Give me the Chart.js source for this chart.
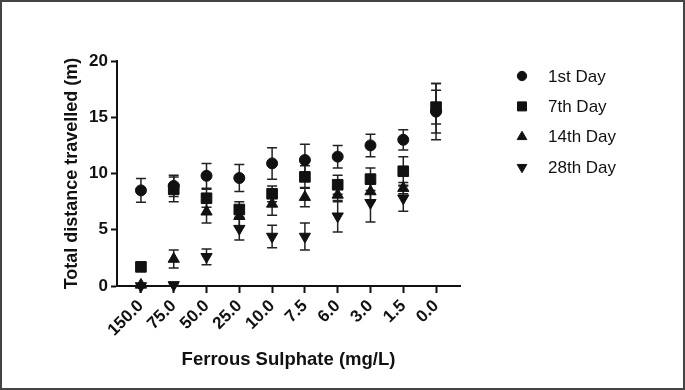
<!DOCTYPE html>
<html>
<head>
<meta charset="utf-8">
<script src="https://cdn.jsdelivr.net/npm/chart.js@4/dist/chart.umd.min.js"></script>
<style>
  body { margin: 0; background: #fff; }
  #wrap { position: relative; width: 685px; height: 390px; }
  #wrap canvas { position: absolute; left: 0; top: 0; }
  #frame { position: absolute; left: 0; top: 0; width: 685px; height: 390px; box-sizing: border-box; border: 2px solid #444; pointer-events: none; }
</style>
</head>
<body>
<div id="wrap">
  <canvas id="distChart" width="685" height="390"></canvas>
  <div id="frame"></div>
</div>
<script>
// Ferrous sulphate concentrations (categories on the x axis)
const concentrations = ['150.0', '75.0', '50.0', '25.0', '10.0', '7.5', '6.0', '3.0', '1.5', '0.0'];

// mean distance travelled (m) and error (SD) for each day
const day1 = [8.5, 8.9, 9.8, 9.6, 10.9, 11.2, 11.5, 12.5, 13.0, 15.5];
const day1Err = [1.05, 0.95, 1.1, 1.2, 1.4, 1.4, 1.0, 1.0, 0.9, 2.5];
const day7 = [1.7, 8.6, 7.8, 6.8, 8.2, 9.7, 9.0, 9.5, 10.2, 15.9];
const day7Err = [0.3, 1.1, 0.8, 0.7, 0.7, 1.0, 0.85, 1.0, 1.3, 1.5];
const day14 = [0.1, 2.4, 6.6, 6.2, 7.3, 7.9, 8.1, 8.4, 8.7, 15.8];
const day14Err = [0.1, 0.8, 1.0, 0.9, 1.0, 0.85, 0.6, 0.8, 0.5, 2.2];
const day28 = [0.0, 0.1, 2.6, 5.1, 4.4, 4.4, 6.2, 7.4, 7.8, null];
const day28Err = [0.1, 0.1, 0.7, 1.0, 1.0, 1.2, 1.4, 1.7, 1.15, null];

const yTicks = [0, 5, 10, 15, 20];

const FONT = "'Liberation Sans', Arial, sans-serif";

function toPoints(values) {
    return values.map((v, i) => ({ x: i, y: v }));
}

// draws the vertical error bars with caps, behind the markers
const errorBars = {
    id: 'errorBars',
    beforeDatasetsDraw(chart) {
        const { ctx, scales: { x, y } } = chart;
        ctx.save();
        ctx.strokeStyle = '#222';
        ctx.lineWidth = 1.5;
        chart.data.datasets.forEach(ds => {
            ds.data.forEach((p, i) => {
                const e = ds.errors[i];
                if (p.y == null || e == null) return;
                const px = x.getPixelForValue(p.x);
                const top = y.getPixelForValue(p.y + e);
                const bot = y.getPixelForValue(Math.max(0, p.y - e));
                ctx.beginPath();
                ctx.moveTo(px, top); ctx.lineTo(px, bot);
                ctx.moveTo(px - 5, top); ctx.lineTo(px + 5, top);
                ctx.moveTo(px - 5, bot); ctx.lineTo(px + 5, bot);
                ctx.stroke();
            });
        });
        ctx.restore();
    }
};

// legend on the right, symbols + labels
const sideLegend = {
    id: 'sideLegend',
    afterDraw(chart) {
        const ctx = chart.ctx;
        ctx.save();
        ctx.font = '17px ' + FONT;
        ctx.textBaseline = 'middle';
        chart.data.datasets.forEach((ds, i) => {
            const yy = 76 + i * 30.4;
            ctx.fillStyle = '#111';
            ctx.strokeStyle = '#111';
            Chart.helpers.drawPoint(ctx, {
                pointStyle: ds.pointStyle,
                radius: ds.pointRadius * 0.85,
                rotation: ds.rotation || 0,
                borderWidth: 1
            }, 522, yy);
            ctx.fillText(ds.label, 548, yy + 1);
        });
        ctx.restore();
    }
};

function makeSet(label, values, errs, style, radius, rotation) {
    return {
        label: label,
        data: toPoints(values),
        errors: errs,
        pointStyle: style,
        pointRadius: radius,
        rotation: rotation,
        backgroundColor: '#111',
        borderColor: '#111',
        borderWidth: 1,
        showLine: false,
        clip: false
    };
}

const ctx = document.getElementById('distChart').getContext('2d');
new Chart(ctx, {
    type: 'scatter',
    data: {
        datasets: [
            makeSet('1st Day', day1, day1Err, 'circle', 5.5, 0),
            makeSet('7th Day', day7, day7Err, 'rect', 7.5, 0),
            makeSet('14th Day', day14, day14Err, 'triangle', 6.5, 0),
            makeSet('28th Day', day28, day28Err, 'triangle', 6.5, 180)
        ]
    },
    options: {
        responsive: false,
        animation: false,
        layout: { padding: { left: 55, top: 61, right: 225, bottom: 10 } },
        plugins: {
            legend: { display: false },
            tooltip: { enabled: false }
        },
        scales: {
            x: {
                type: 'linear',
                min: -0.73,
                max: 9.73,
                afterBuildTicks: (scale) => {
                    scale.ticks = concentrations.map((c, i) => ({ value: i }));
                },
                afterFit: (scale) => { scale.height = 94; },
                ticks: {
                    autoSkip: false,
                    minRotation: 45,
                    maxRotation: 45,
                    padding: 3,
                    color: '#111',
                    font: { family: FONT, size: 17, weight: 'bold' },
                    callback: (v) => concentrations[v]
                },
                grid: { drawOnChartArea: false, drawTicks: true, tickLength: 7, tickWidth: 2, tickColor: '#111' },
                border: { color: '#111', width: 2 },
                title: {
                    display: true,
                    text: 'Ferrous Sulphate (mg/L)',
                    color: '#111',
                    font: { family: FONT, size: 18.5, weight: 'bold' },
                    padding: { top: 0, bottom: 9 }
                }
            },
            y: {
                min: 0,
                max: 20,
                afterBuildTicks: (scale) => {
                    scale.ticks = yTicks.map(v => ({ value: v }));
                },
                afterFit: (scale) => { scale.width = 117 - 55; },
                ticks: {
                    padding: 3,
                    color: '#111',
                    font: { family: FONT, size: 17, weight: 'bold' }
                },
                grid: { drawOnChartArea: false, drawTicks: true, tickLength: 6, tickWidth: 2, tickColor: '#111' },
                border: { color: '#111', width: 2 },
                title: {
                    display: true,
                    text: 'Total distance travelled (m)',
                    color: '#111',
                    font: { family: FONT, size: 18, weight: 'bold' },
                    padding: { top: 6, bottom: 0 }
                }
            }
        }
    },
    plugins: [errorBars, sideLegend]
});
</script>
</body>
</html>
